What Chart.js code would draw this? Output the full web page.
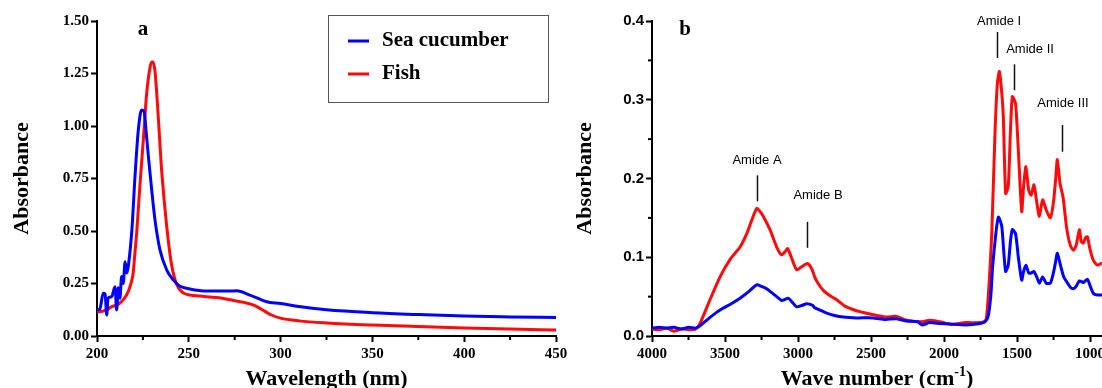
<!DOCTYPE html>
<html>
<head>
<meta charset="utf-8">
<script src="https://cdn.jsdelivr.net/npm/chart.js@4.4.1/dist/chart.umd.min.js"></script>
<style>
body { margin: 0; background: #fff; width: 1102px; height: 388px; overflow: hidden; position: relative; }
canvas { position: absolute; top: 0; }
#uvChart { left: 0; }
#irChart { left: 560px; }
</style>
</head>
<body>
<canvas id="uvChart" width="580" height="388"></canvas>
<canvas id="irChart" width="542" height="388"></canvas>
<script>
// panel a: UV spectra
const uvWaveBlue = [200, 201.6, 203.4, 204.4, 205.3, 206, 208, 209.8, 210.7, 211.6, 212.5, 213.4, 214.3, 215.3, 216.2, 217, 219, 220.7, 222.5, 224.3, 225.6, 227, 228, 229.8, 231.6, 234.3, 238, 241.6, 245, 250.6, 259.7, 272.4, 276, 283.3, 292.4, 300, 310, 325, 350, 375, 400, 425, 450];
const uvBlue = [0.124, 0.13, 0.204, 0.20, 0.10, 0.18, 0.187, 0.235, 0.124, 0.23, 0.18, 0.283, 0.25, 0.354, 0.30, 0.33, 0.505, 0.76, 0.98, 1.076, 1.07, 0.95, 0.854, 0.695, 0.552, 0.41, 0.314, 0.267, 0.238, 0.224, 0.214, 0.214, 0.215, 0.195, 0.163, 0.155, 0.14, 0.125, 0.111, 0.102, 0.095, 0.091, 0.088];
const uvWaveRed = [200, 203, 205.3, 208, 210, 212.5, 215, 217, 218.5, 219.7, 220.7, 221.6, 223.4, 225.2, 227, 228.9, 229.8, 230.5, 231.6, 232.5, 233.4, 235.2, 238, 240.6, 243.4, 247, 250.6, 256, 265, 274, 280, 285, 290, 295, 300, 310, 325, 350, 375, 400, 425, 450];
const uvRed = [0.115, 0.118, 0.124, 0.14, 0.145, 0.157, 0.18, 0.211, 0.25, 0.30, 0.40, 0.49, 0.72, 0.93, 1.15, 1.28, 1.305, 1.305, 1.26, 1.16, 1.04, 0.79, 0.52, 0.34, 0.245, 0.205, 0.195, 0.19, 0.183, 0.17, 0.16, 0.148, 0.125, 0.10, 0.085, 0.072, 0.062, 0.052, 0.045, 0.038, 0.033, 0.029];

// panel b: FTIR spectra
const irWaveBlue = [4000, 3950, 3900, 3850, 3800, 3750, 3700, 3671, 3600, 3534, 3466, 3397, 3340, 3283, 3250, 3215, 3180, 3146, 3112, 3066, 3040, 3009, 2970, 2940, 2900, 2886, 2850, 2804, 2750, 2690, 2600, 2486, 2400, 2330, 2256, 2180, 2150, 2100, 2027, 1950, 1850, 1753, 1720, 1698, 1680, 1667, 1645, 1628, 1605, 1590, 1578, 1560, 1545, 1532, 1510, 1491, 1468, 1455, 1439, 1420, 1403, 1384, 1365, 1347, 1325, 1300, 1272, 1251, 1235, 1224, 1200, 1180, 1160, 1135, 1114, 1095, 1073, 1046, 1018, 1000, 977, 950, 918];
const irBlue = [0.010, 0.011, 0.010, 0.011, 0.009, 0.011, 0.010, 0.013, 0.024, 0.033, 0.040, 0.048, 0.056, 0.065, 0.063, 0.06, 0.055, 0.05, 0.045, 0.048, 0.043, 0.037, 0.039, 0.041, 0.039, 0.036, 0.033, 0.029, 0.026, 0.024, 0.023, 0.023, 0.021, 0.022, 0.019, 0.018, 0.014, 0.017, 0.016, 0.015, 0.014, 0.016, 0.018, 0.025, 0.05, 0.088, 0.13, 0.151, 0.14, 0.105, 0.082, 0.09, 0.12, 0.135, 0.13, 0.10, 0.071, 0.082, 0.09, 0.08, 0.08, 0.082, 0.075, 0.067, 0.075, 0.067, 0.067, 0.08, 0.095, 0.105, 0.088, 0.075, 0.069, 0.062, 0.06, 0.063, 0.07, 0.068, 0.072, 0.064, 0.054, 0.052, 0.052];
const irWaveRed = [4000, 3950, 3900, 3850, 3800, 3750, 3700, 3671, 3603, 3534, 3466, 3397, 3351, 3317, 3283, 3260, 3238, 3192, 3146, 3112, 3085, 3071, 3046, 3009, 2975, 2936, 2905, 2886, 2860, 2827, 2780, 2735, 2680, 2644, 2600, 2575, 2486, 2400, 2330, 2256, 2150, 2100, 2027, 1950, 1850, 1753, 1720, 1708, 1690, 1673, 1651, 1635, 1621, 1605, 1594, 1578, 1560, 1545, 1532, 1510, 1491, 1468, 1455, 1439, 1420, 1403, 1384, 1365, 1347, 1325, 1300, 1272, 1251, 1235, 1224, 1206, 1195, 1183, 1160, 1135, 1114, 1095, 1073, 1060, 1046, 1030, 1018, 1000, 977, 950, 918];
const irRed = [0.009, 0.008, 0.010, 0.006, 0.009, 0.008, 0.009, 0.016, 0.046, 0.075, 0.097, 0.113, 0.13, 0.147, 0.162, 0.158, 0.152, 0.135, 0.113, 0.103, 0.108, 0.111, 0.10, 0.084, 0.088, 0.092, 0.085, 0.075, 0.066, 0.058, 0.051, 0.046, 0.038, 0.035, 0.032, 0.031, 0.027, 0.024, 0.025, 0.02, 0.018, 0.02, 0.018, 0.015, 0.017, 0.017, 0.019, 0.025, 0.07, 0.13, 0.257, 0.32, 0.336, 0.31, 0.279, 0.181, 0.19, 0.26, 0.304, 0.295, 0.236, 0.158, 0.19, 0.215, 0.185, 0.179, 0.192, 0.17, 0.152, 0.173, 0.16, 0.15, 0.169, 0.2, 0.224, 0.194, 0.185, 0.174, 0.137, 0.115, 0.109, 0.115, 0.135, 0.12, 0.118, 0.125, 0.126, 0.11, 0.096, 0.09, 0.093];
const irTickValues = [1000, 1500, 2000, 2500, 3000, 3500, 4000];

const seriesNames = ['Sea cucumber', 'Fish'];

// peak labels (positions in data units)
const amideLabels = ['Amide A', 'Amide B', 'Amide I', 'Amide II', 'Amide III'];
const amideLineWave = [3281, 2938, 1637, 1521, 1192];
const amideLineTop = [0.204, 0.145, 0.386, 0.345, 0.268];
const amideLineBottom = [0.171, 0.112, 0.353, 0.312, 0.234];
const amideTextWave = [3281, 2863, 1623, 1411, 1185];
const amideTextY = [0.223, 0.179, 0.40, 0.364, 0.295];

const BLUE = '#0000ff';
const RED = '#ff0a0a';
const SERIF = '"Liberation Serif", "Times New Roman", serif';
const SANS = '"Liberation Sans", Arial, sans-serif';

function toPoints(xs, ys) {
    return xs.map((x, i) => ({ x: x, y: ys[i] }));
}

const extrasPlugin = {
    id: 'extras',
    afterDraw(chart, args, opts) {
        const ctx = chart.ctx;
        const area = chart.chartArea;
        ctx.save();

        // minor ticks
        (opts.minor || []).forEach(m => {
            const scale = chart.scales[m.axis];
            const lo = Math.min(scale.min, scale.max), hi = Math.max(scale.min, scale.max);
            ctx.strokeStyle = '#000';
            ctx.lineWidth = 2;
            for (let i = Math.ceil(lo / m.step - 1e-9); i * m.step <= hi + 1e-9; i++) {
                const v = i * m.step;
                if (Math.abs(v / m.major - Math.round(v / m.major)) < 1e-6) continue;
                const p = scale.getPixelForValue(v);
                ctx.beginPath();
                if (m.axis === 'x') {
                    ctx.moveTo(p, area.bottom);
                    ctx.lineTo(p, area.bottom + 4);
                } else {
                    ctx.moveTo(area.left, p);
                    ctx.lineTo(area.left - 4, p);
                }
                ctx.stroke();
            }
        });

        // panel letter
        if (opts.letter) {
            ctx.fillStyle = '#000';
            ctx.font = 'bold 21px ' + SERIF;
            ctx.textAlign = 'center';
            ctx.textBaseline = 'middle';
            ctx.fillText(opts.letter, area.left + opts.letterDx, area.top + 9);
        }

        // boxed legend
        if (opts.legendBox) {
            const bx = area.left + 231, by = area.top - 6, bw = 220, bh = 87;
            ctx.strokeStyle = '#555';
            ctx.lineWidth = 1;
            ctx.strokeRect(bx + 0.5, by + 0.5, bw, bh);
            ctx.font = 'bold 21px ' + SERIF;
            ctx.textAlign = 'left';
            ctx.textBaseline = 'middle';
            chart.data.datasets.forEach((ds, i) => {
                const ly = by + 26 + i * 33;
                ctx.strokeStyle = ds.borderColor;
                ctx.lineWidth = 3;
                ctx.beginPath();
                ctx.moveTo(bx + 20, ly);
                ctx.lineTo(bx + 41, ly);
                ctx.stroke();
                ctx.fillStyle = '#000';
                ctx.fillText(ds.label, bx + 54, ly);
            });
        }

        // peak annotations
        if (opts.amides) {
            const xs = chart.scales.x, ys = chart.scales.y;
            ctx.font = '13px ' + SANS;
            ctx.textAlign = 'center';
            ctx.textBaseline = 'middle';
            ctx.fillStyle = '#000';
            ctx.strokeStyle = '#111';
            ctx.lineWidth = 1.5;
            amideLabels.forEach((lab, i) => {
                const lx = Math.round(xs.getPixelForValue(amideLineWave[i])) + 0.5;
                ctx.beginPath();
                ctx.moveTo(lx, ys.getPixelForValue(amideLineTop[i]));
                ctx.lineTo(lx, ys.getPixelForValue(amideLineBottom[i]));
                ctx.stroke();
                ctx.fillText(lab, xs.getPixelForValue(amideTextWave[i]), ys.getPixelForValue(amideTextY[i]));
            });
        }

        // x title with superscript
        if (opts.supTitle) {
            const t = opts.supTitle;
            const big = 'bold 22px ' + SERIF, small = 'bold 14px ' + SERIF;
            ctx.font = big;
            const w1 = ctx.measureText(t.main).width;
            const w3 = ctx.measureText(t.end).width;
            ctx.font = small;
            const w2 = ctx.measureText(t.sup).width;
            let x = (area.left + area.right) / 2 - (w1 + w2 + w3) / 2;
            const base = 385;
            ctx.fillStyle = '#000';
            ctx.textAlign = 'left';
            ctx.textBaseline = 'alphabetic';
            ctx.font = big;
            ctx.fillText(t.main, x, base);
            x += w1;
            ctx.font = small;
            ctx.fillText(t.sup, x, base - 9);
            x += w2;
            ctx.font = big;
            ctx.fillText(t.end, x, base);
        }
        ctx.restore();
    }
};

function axisBase() {
    return {
        type: 'linear',
        border: { display: true, color: '#000', width: 2 },
        grid: { drawOnChartArea: false, drawTicks: true, tickLength: 6, tickColor: '#000', tickWidth: 2 }
    };
}

// ---------- panel a ----------
const uvX = axisBase();
Object.assign(uvX, {
    min: 200, max: 450,
    ticks: { stepSize: 50, padding: 3, color: '#000', font: { family: SERIF, size: 15, weight: 'bold' } },
    title: { display: true, text: 'Wavelength (nm)', color: '#000', font: { family: SERIF, size: 22, weight: 'bold', lineHeight: 1 }, padding: { top: 0, bottom: -2 } },
    afterFit: s => { s.height = 52; s.paddingLeft = 0; s.paddingRight = 0; }
});
const uvY = axisBase();
Object.assign(uvY, {
    min: 0, max: 1.5,
    ticks: { stepSize: 0.25, padding: 2, color: '#000', font: { family: SERIF, size: 15, weight: 'bold' }, callback: v => v.toFixed(2) },
    title: { display: true, text: 'Absorbance', color: '#000', font: { family: SERIF, size: 22, weight: 'bold', lineHeight: 1 }, padding: { top: 11, bottom: 0 } },
    afterFit: s => { s.width = 97; s.paddingTop = 0; s.paddingBottom = 0; }
});

new Chart(document.getElementById('uvChart'), {
    type: 'line',
    data: {
        datasets: [
            { label: seriesNames[0], data: toPoints(uvWaveBlue, uvBlue), borderColor: BLUE, borderWidth: 3, pointRadius: 0, cubicInterpolationMode: 'monotone', fill: false },
            { label: seriesNames[1], data: toPoints(uvWaveRed, uvRed), borderColor: RED, borderWidth: 3, pointRadius: 0, cubicInterpolationMode: 'monotone', fill: false }
        ]
    },
    options: {
        responsive: false,
        animation: false,
        layout: { padding: { top: 21, right: 24, left: 0, bottom: 0 } },
        scales: { x: uvX, y: uvY },
        plugins: {
            legend: { display: false },
            tooltip: { enabled: false },
            extras: {
                minor: [{ axis: 'x', step: 25, major: 50 }],
                letter: 'a', letterDx: 46,
                legendBox: true
            }
        }
    },
    plugins: [extrasPlugin]
});

// ---------- panel b ----------
const irX = axisBase();
Object.assign(irX, {
    min: 918, max: 4000, reverse: true,
    ticks: { padding: 3, color: '#000', font: { family: SERIF, size: 15, weight: 'bold' }, callback: v => String(v) },
    afterBuildTicks: s => { s.ticks = irTickValues.map(v => ({ value: v })); },
    afterFit: s => { s.height = 52; s.paddingLeft = 0; s.paddingRight = 0; }
});
const irY = axisBase();
Object.assign(irY, {
    min: 0, max: 0.4,
    ticks: { stepSize: 0.1, padding: 2, color: '#000', font: { family: SANS, size: 15, weight: 'bold' }, callback: v => v.toFixed(1) },
    title: { display: true, text: 'Absorbance', color: '#000', font: { family: SERIF, size: 22, weight: 'bold', lineHeight: 1 }, padding: { top: 14, bottom: 0 } },
    afterFit: s => { s.width = 92; s.paddingTop = 0; s.paddingBottom = 0; }
});

new Chart(document.getElementById('irChart'), {
    type: 'line',
    data: {
        datasets: [
            { label: seriesNames[0], data: toPoints(irWaveBlue, irBlue), borderColor: BLUE, borderWidth: 3, pointRadius: 0, tension: 0.2, fill: false },
            { label: seriesNames[1], data: toPoints(irWaveRed, irRed), borderColor: RED, borderWidth: 3, pointRadius: 0, tension: 0.2, fill: false }
        ]
    },
    options: {
        responsive: false,
        animation: false,
        layout: { padding: { top: 21, right: 0, left: 0, bottom: 0 } },
        scales: { x: irX, y: irY },
        plugins: {
            legend: { display: false },
            tooltip: { enabled: false },
            extras: {
                minor: [{ axis: 'x', step: 250, major: 500 }, { axis: 'y', step: 0.05, major: 0.1 }],
                letter: 'b', letterDx: 33,
                amides: true,
                supTitle: { main: 'Wave number (cm', sup: '-1', end: ')' }
            }
        }
    },
    plugins: [extrasPlugin]
});
</script>
</body>
</html>
